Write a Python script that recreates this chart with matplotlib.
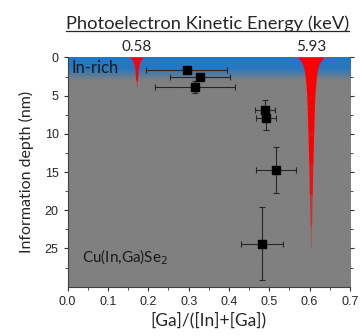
import numpy as np
import matplotlib.pyplot as plt
from matplotlib.colors import LinearSegmentedColormap
from matplotlib.lines import Line2D

plt.rcParams['font.family'] = ['Lato', 'DejaVu Sans']

# data points
ga_ratio = [0.295, 0.328, 0.316, 0.489, 0.491, 0.516, 0.481]
depth = [1.66, 2.53, 3.9, 6.87, 7.96, 14.7, 24.4]
ga_err = [0.10, 0.075, 0.10, 0.025, 0.025, 0.05, 0.052]
depth_err = [0.0, 0.0, 0.8, 1.3, 1.6, 3.0, 4.8]

# photoelectron kinetic energy peaks (position on [Ga] axis, label)
peak_pos = [0.171, 0.603]
peak_labels = ['0.58', '5.93']

# peak half-width vs depth
peak1_z = [0, 0.35, 1, 1.66, 3, 4]
peak1_hw = [0.0165, 0.010, 0.006, 0.004, 0.002, 0.0003]
peak2_z = [0, 0.4, 0.8, 1.6, 2.5, 3.4, 5, 6.4, 10, 14, 18, 22, 25]
peak2_hw = [0.032, 0.026, 0.021, 0.0165, 0.014, 0.0123, 0.010, 0.009, 0.007, 0.005, 0.0035, 0.002, 0.0008]

fig = plt.figure(figsize=(3.6, 3.36), dpi=100)
ax = fig.add_axes([0.188, 0.147, 0.784, 0.682])

# background: blue at the surface fading to gray
cmap = LinearSegmentedColormap.from_list('bg', ['#2277c4', '#2a78bd', '#808080'])
zz = np.linspace(0, 30, 300).reshape(-1, 1)
grad = np.clip(zz / 3.0, 0, 1)
ax.imshow(grad, extent=[0, 0.7, 30, 0], aspect='auto', cmap=cmap, zorder=0)

# red peaks
for z, hw, x0 in [(peak1_z, peak1_hw, peak_pos[0]), (peak2_z, peak2_hw, peak_pos[1])]:
    z = np.array(z)
    hw = np.array(hw)
    for i in range(len(z) - 1):
        a = 1.0 if z[i] < 0.5 * z[-1] else 1.0 - (z[i] - 0.5 * z[-1]) / (0.5 * z[-1]) * 0.9
        ax.fill_betweenx(z[i:i + 2], x0 - hw[i:i + 2], x0 + hw[i:i + 2],
                         color='#ff0000', alpha=a, lw=0, zorder=1)

ax.errorbar(ga_ratio, depth, xerr=ga_err, yerr=depth_err, fmt='s', color='black',
            ms=5.5, ecolor='#262626', elinewidth=0.8, capsize=2, capthick=0.8, zorder=3)

ax.set_xlim(0, 0.7)
ax.set_ylim(30, 0)
ax.set_xticks(np.arange(0, 0.71, 0.1))
ax.set_xticks(np.arange(0.05, 0.7, 0.1), minor=True)
ax.set_yticks([0, 5, 10, 15, 20, 25])
ax.set_yticks([2.5, 7.5, 12.5, 17.5, 22.5, 27.5], minor=True)
ax.xaxis.set_major_formatter(plt.FuncFormatter(lambda v, p: f'{v:.1f}'))
ax.tick_params(axis='both', which='major', labelsize=9, colors='#333333', length=3,
               labelcolor='#262626')
ax.tick_params(axis='both', which='minor', length=2, colors='#333333')
ax.tick_params(axis='y', which='both', right=True, direction='out')
for lab in ax.get_xticklabels() + ax.get_yticklabels():
    lab.set_family(['Liberation Sans', 'DejaVu Sans'])
for side in ['top', 'right']:
    ax.spines[side].set_visible(False)
for side in ['left', 'bottom']:
    ax.spines[side].set_color('#404040')
    ax.spines[side].set_linewidth(0.8)

ax.set_xlabel('[Ga]/([In]+[Ga])', fontsize=12.5, color='#262626', labelpad=3)
ax.set_ylabel('Information depth (nm)', fontsize=11.5, color='#262626', labelpad=8)

ax.text(0.01, 0.3, 'In-rich', fontsize=12, color='#1a1a1a', va='top')
ax.text(0.035, 26.2, 'Cu(In,Ga)Se$_2$', fontsize=11, color='#1a1a1a', va='center')

# top labels for kinetic energy
for x0, lab in zip(peak_pos, peak_labels):
    ax.text(x0, 1.015, lab, transform=ax.get_xaxis_transform(), ha='center', va='bottom',
            fontsize=11, color='#262626')
title = fig.text(0.576, 0.913, 'Photoelectron Kinetic Energy (keV)', ha='center', va='baseline',
                 fontsize=13.2, color='#262626')

fig.canvas.draw()
bb = title.get_window_extent().transformed(fig.transFigure.inverted())
fig.add_artist(Line2D([bb.x0, bb.x1], [bb.y0 + 0.003, bb.y0 + 0.003], color='#262626', lw=0.9))

fig.savefig('out.png', dpi=100)
